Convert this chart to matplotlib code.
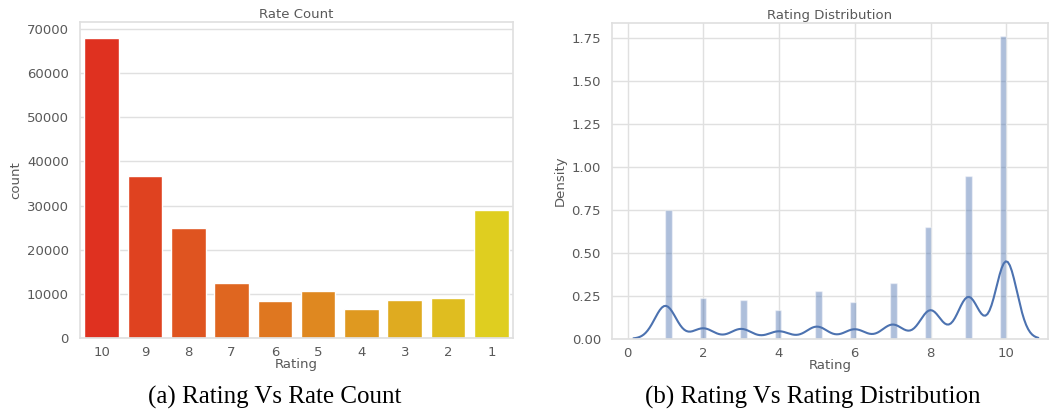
import matplotlib
matplotlib.use("Agg")
import matplotlib.pyplot as plt
import numpy as np
import seaborn as sns

ratings = [10, 9, 8, 7, 6, 5, 4, 3, 2, 1]
counts = [68000, 36600, 25000, 12400, 8300, 10600, 6500, 8600, 9100, 28900]
tick_labels = [str(r) for r in ratings]

sns.set_theme(style="whitegrid")
plt.rcParams['font.family'] = ['DejaVu Sans']
plt.rcParams['text.color'] = '0.35'
plt.rcParams['axes.labelcolor'] = '0.35'
plt.rcParams['xtick.color'] = '0.35'
plt.rcParams['ytick.color'] = '0.35'
plt.rcParams['grid.color'] = '0.88'
plt.rcParams['axes.edgecolor'] = '0.88'

fs = 9.5
fig = plt.figure(figsize=(10.5, 4.12), dpi=100)

# (a) count plot
ax1 = fig.add_axes([80 / 1050, 1 - 338 / 412, 433 / 1050, 316 / 412])
colors = sns.color_palette("autumn", len(ratings), desat=0.75)
ax1.bar(range(len(ratings)), counts, width=0.8, color=colors)
ax1.set_xticks(range(len(ratings)))
ax1.set_xticklabels(tick_labels)
ax1.set_xlim(-0.5, len(ratings) - 0.5)
ax1.set_ylim(0, 71600)
ax1.set_yticks(np.arange(0, 70001, 10000))
ax1.xaxis.grid(False)
ax1.set_xlabel("Rating", fontsize=fs, labelpad=-1)
ax1.set_ylabel("count", fontsize=fs, labelpad=3)
ax1.set_title("Rate Count", fontsize=fs, pad=3)
ax1.tick_params(labelsize=fs, pad=2)
ax1.tick_params(axis="x", pad=0)

# (b) distribution plot
raw = np.repeat(ratings, counts)
ax2 = fig.add_axes([612 / 1050, 1 - 338.7 / 412, 436 / 1050, 316 / 412])
ax2.hist(raw, bins=50, density=True, color="C0", alpha=0.45)
sns.kdeplot(x=raw, ax=ax2, color="C0", linewidth=1.5, cut=3, bw_method="scott")
ax2.set_xlim(-0.41, 11.1)
ax2.set_ylim(0, 1.84)
ax2.set_yticks([0, 0.25, 0.5, 0.75, 1.0, 1.25, 1.5, 1.75])
ax2.set_yticklabels(["0.00", "0.25", "0.50", "0.75", "1.00", "1.25", "1.50", "1.75"])
ax2.set_xticks([0, 2, 4, 6, 8, 10])
ax2.set_xlabel("Rating", fontsize=fs, labelpad=-1)
ax2.set_ylabel("Density", fontsize=fs, labelpad=3)
ax2.set_title("Rating Distribution", fontsize=fs, pad=3)
ax2.tick_params(labelsize=fs, pad=2)
ax2.tick_params(axis="x", pad=0)

fig.text(275 / 1050, 1 - 397 / 412, "(a) Rating Vs Rate Count", family="Liberation Serif",
         fontsize=18, color="black", ha="center", va="center")
fig.text(813 / 1050, 1 - 397 / 412, "(b) Rating Vs Rating Distribution", family="Liberation Serif",
         fontsize=18, color="black", ha="center", va="center")

fig.savefig("out.png", dpi=100)
